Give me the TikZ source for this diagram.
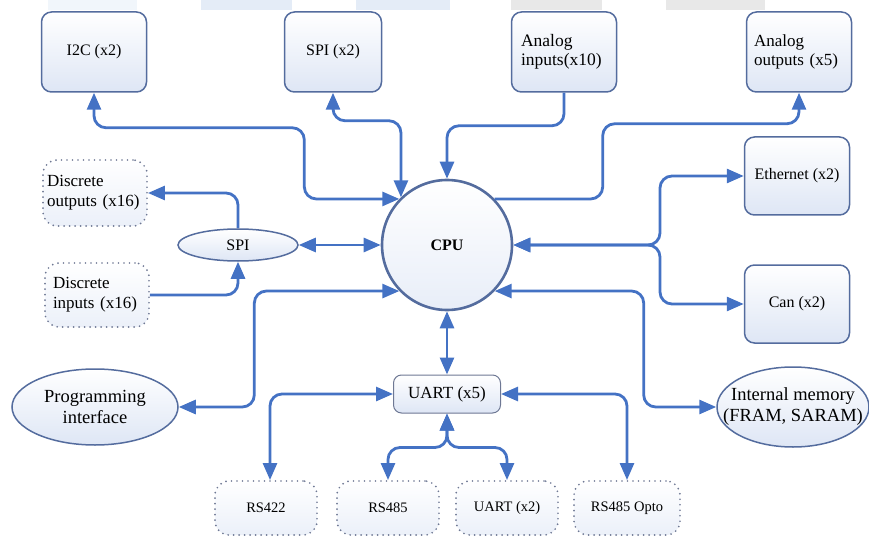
\documentclass[tikz,border=0pt]{standalone}
\usepackage{fontspec}
\setmainfont{Liberation Serif}
\usepackage{xcolor}
\usepackage{tikz}
\usetikzlibrary{arrows.meta,calc,positioning,shapes.geometric}
\definecolor{linkblue}{RGB}{68,114,196}
\definecolor{edgeblue}{RGB}{84,108,158}
\definecolor{fillblue}{RGB}{222,230,245}
\definecolor{dotgray}{RGB}{110,120,148}
\definecolor{markblue}{RGB}{228,236,247}
\definecolor{markgray}{RGB}{232,232,232}
\tikzset{bigtip/.tip={Triangle[length=17pt 0 0,width=14pt 0 0]}}

\begin{document}
\begin{tikzpicture}[x=1pt, y=-1pt,
    box/.style={rectangle, draw=edgeblue, line width=1.5pt, rounded corners=10pt, top color=white, bottom color=fillblue, minimum width=105pt, minimum height=80pt, align=center, inner sep=2pt, font=\fontsize{16}{18}\selectfont},
    dotbox/.style={rectangle, draw=dotgray, line width=1.9pt, dash pattern=on 0pt off 5.5pt, line cap=round, rounded corners=14pt, top color=white, bottom color=fillblue!60, minimum width=104pt, minimum height=64pt, align=left, inner sep=2pt, font=\fontsize{17}{20}\selectfont},
    oval/.style={ellipse, draw=edgeblue, line width=1.5pt, top color=white, bottom color=fillblue, align=center, inner sep=1pt, font=\fontsize{18.5}{21}\selectfont},
    conn/.style={draw=linkblue, line width=2.8pt},
    roundy/.style={rounded corners=12pt},
    oneway/.style={conn, arrows={-bigtip}},
    twoway/.style={conn, arrows={bigtip-bigtip}}
]
\useasboundingbox (0,0) rectangle (869,537);

% faint strip along the top
\fill[markblue!50] (48,0) rectangle (137,10);
\fill[markblue] (201,0) rectangle (292,10);
\fill[markblue] (356,0) rectangle (450,10);
\fill[markgray] (511,0) rectangle (602,10);
\fill[markgray] (666,0) rectangle (765,10);

% Top row
\node[box] (i2c) at (94,52) {I2C (x2)};
\node[box, minimum width=97pt] (spix) at (333,52) {SPI (x2)};
\node[box, text width=86pt, align=left, font=\fontsize{17.5}{19}\selectfont] (ain) at (564,52) {Analog\\inputs(x10)};
\node[box, text width=90pt, align=left, font=\fontsize{17}{19}\selectfont] (aout) at (799,52) {Analog\\outputs (x5)};

% Right column
\node[box, minimum height=78pt] (eth) at (797,176) {Ethernet (x2)};
\node[box, minimum height=78pt] (can) at (797,304) {Can (x2)};

% Left column
\node[dotbox, minimum height=66pt, text width=96pt] (dout) at (95,193) {Discrete\\outputs (x16)};
\node[dotbox, text width=88pt] (din) at (97,295) {Discrete\\inputs (x16)};
\node[oval, minimum width=120pt, minimum height=32pt, font=\fontsize{16}{18}\selectfont] (spi) at (238,245) {SPI};
\node[oval, minimum width=166pt, minimum height=76pt] (prog) at (95,407) {Programming\\interface};

% Centre
\node[circle, draw=edgeblue, line width=2.6pt, top color=white, bottom color=fillblue!70, minimum size=130pt, font=\fontsize{16}{18}\selectfont\bfseries] (cpu) at (447,245) {CPU};
\node[box, draw=dotgray, line width=1pt, rounded corners=8pt, minimum width=107pt, minimum height=38pt, font=\fontsize{17}{19}\selectfont] (uart) at (447,394) {UART (x5)};

% Memory
\node[oval, minimum width=152pt, minimum height=80pt] (mem) at (793,407) {};
\node[align=center, font=\fontsize{18.5}{21}\selectfont] (memtext) at (mem) {Internal memory\\(FRAM, SARAM)};

% Serial lines
\node[dotbox, minimum width=102pt, minimum height=54pt, align=center, font=\fontsize{14.5}{17}\selectfont] (rs422) at (266,508) {RS422};
\node[dotbox, minimum width=102pt, minimum height=54pt, align=center, font=\fontsize{14.5}{17}\selectfont] (rs485) at (388,508) {RS485};
\node[dotbox, minimum width=102pt, minimum height=54pt, align=center, font=\fontsize{14.5}{17}\selectfont] (uartb) at (507,508) {UART (x2)};
\node[dotbox, minimum width=106pt, minimum height=54pt, align=center, font=\fontsize{14.5}{17}\selectfont] (opto) at (627,508) {RS485 Opto};

% Links to the CPU
\draw[twoway] (i2c.south) {[roundy] -- ++(0,35) -| ($(cpu.136)+(-95,0)$) -- (cpu.136)};
\draw[twoway] (spix.south) {[roundy] -- ++(0,28) -| (cpu.134)};
\draw[oneway] (ain.south) {[roundy] -- ++(0,33) -| (cpu.north)};
\draw[oneway] (cpu.44) {[roundy] -- ++(108,0) |- ($(aout.south)+(0,31)$) -- (aout.south)};

\coordinate (netfork) at (660,245);
\draw[twoway] (cpu.east) {[roundy] -- (netfork) |- (eth.west)};
\draw[twoway] (cpu.east) {[roundy] -- (netfork) |- (can.west)};
\draw[twoway] (cpu.-44) {[roundy] -- ++(149,0) |- (mem.west)};
\draw[twoway] (cpu.-136) {[roundy] -- ++(-145,0) |- (prog.east)};

% SPI expander
\draw[twoway] (spi.east) -- (cpu.west);
\draw[oneway] (spi.north) {[roundy] |- (dout.east)};
\draw[oneway] (din.east) {[roundy] -| (spi.south)};

% UART fan-out
\draw[twoway] (cpu.south) -- (uart.north);
\draw[twoway] (uart.west) {[roundy] -| ([xshift=4pt]rs422.north)};
\draw[twoway] (uart.east) {[roundy] -| (opto.north)};
\draw[twoway] (uart.south) {[roundy] -- ++(0,34) -| (rs485.north)};
\draw[twoway] (uart.south) {[roundy] -- ++(0,34) -| (uartb.north)};

\end{tikzpicture}
\end{document}
